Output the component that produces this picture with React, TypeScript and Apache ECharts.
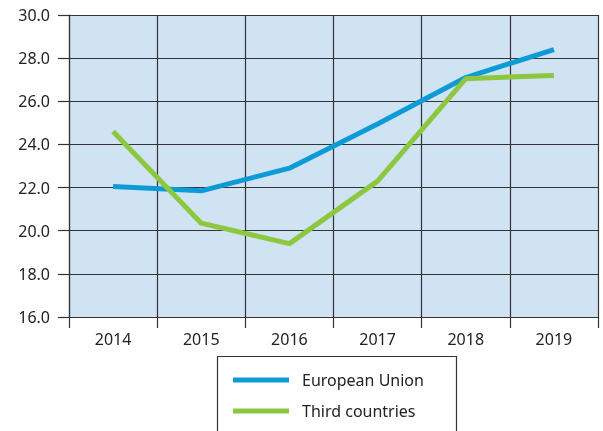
import React, { useEffect, useRef } from "react";
import * as echarts from "echarts";

const years = ["2014", "2015", "2016", "2017", "2018", "2019"];
const euValues = [22.05, 21.85, 22.9, 24.95, 27.1, 28.4];
const thirdValues = [24.6, 20.35, 19.4, 22.3, 27.05, 27.2];
const seriesNames = ["European Union", "Third countries"];

export default function App() {
  const ref = useRef<HTMLDivElement>(null);
  useEffect(() => {
    if (!ref.current) return;
    const chart = echarts.init(ref.current, undefined, { renderer: "svg" });
    const font = "'Noto Sans', sans-serif";
    chart.setOption({
      animation: false,
      grid: {
        left: 69,
        right: 5,
        top: 15,
        bottom: 114,
        show: true,
        backgroundColor: "#cfe3f3",
        borderWidth: 0,
      },
      xAxis: {
        type: "category",
        data: years,
        boundaryGap: true,
        axisLine: { show: true, lineStyle: { color: "#333", width: 1.2 } },
        axisTick: { show: true, length: 11, lineStyle: { color: "#333", width: 1.2 } },
        splitLine: { show: true, lineStyle: { color: "#333", width: 1.2 } },
        axisLabel: { color: "#222", fontSize: 16, fontFamily: font, margin: 14 },
      },
      yAxis: {
        type: "value",
        min: 16,
        max: 30,
        interval: 2,
        axisLine: { show: true, lineStyle: { color: "#333", width: 1.2 } },
        axisTick: { show: true, length: 11, lineStyle: { color: "#333", width: 1.2 } },
        splitLine: { show: true, lineStyle: { color: "#333", width: 1.2 } },
        axisLabel: {
          color: "#222",
          fontSize: 16,
          fontFamily: font,
          margin: 19,
          formatter: (v: number) => v.toFixed(1),
        },
      },
      legend: {
        orient: "vertical",
        left: 228,
        top: 365,
        itemWidth: 56,
        itemHeight: 5,
        itemGap: 11,
        icon: "rect",
        textStyle: { color: "#222", fontSize: 16, fontFamily: font, lineHeight: 20, padding: [0, 0, 0, 8] },
        data: seriesNames,
      },
      graphic: [
        {
          type: "rect",
          shape: { x: 217.5, y: 356.5, width: 239, height: 100 },
          style: { fill: "#fff", stroke: "#333", lineWidth: 1.2 },
          z: -1,
        },
      ],
      series: [
        {
          name: seriesNames[0],
          type: "line",
          data: euValues,
          symbol: "none",
          lineStyle: { color: "#0d9bd8", width: 5 },
          itemStyle: { color: "#0d9bd8" },
        },
        {
          name: seriesNames[1],
          type: "line",
          data: thirdValues,
          symbol: "none",
          lineStyle: { color: "#8dc63f", width: 5 },
          itemStyle: { color: "#8dc63f" },
        },
      ],
    });
    return () => chart.dispose();
  }, []);
  return <div ref={ref} style={{ width: 603, height: 431, position: "fixed", left: 0, top: 0 }} />;
}
